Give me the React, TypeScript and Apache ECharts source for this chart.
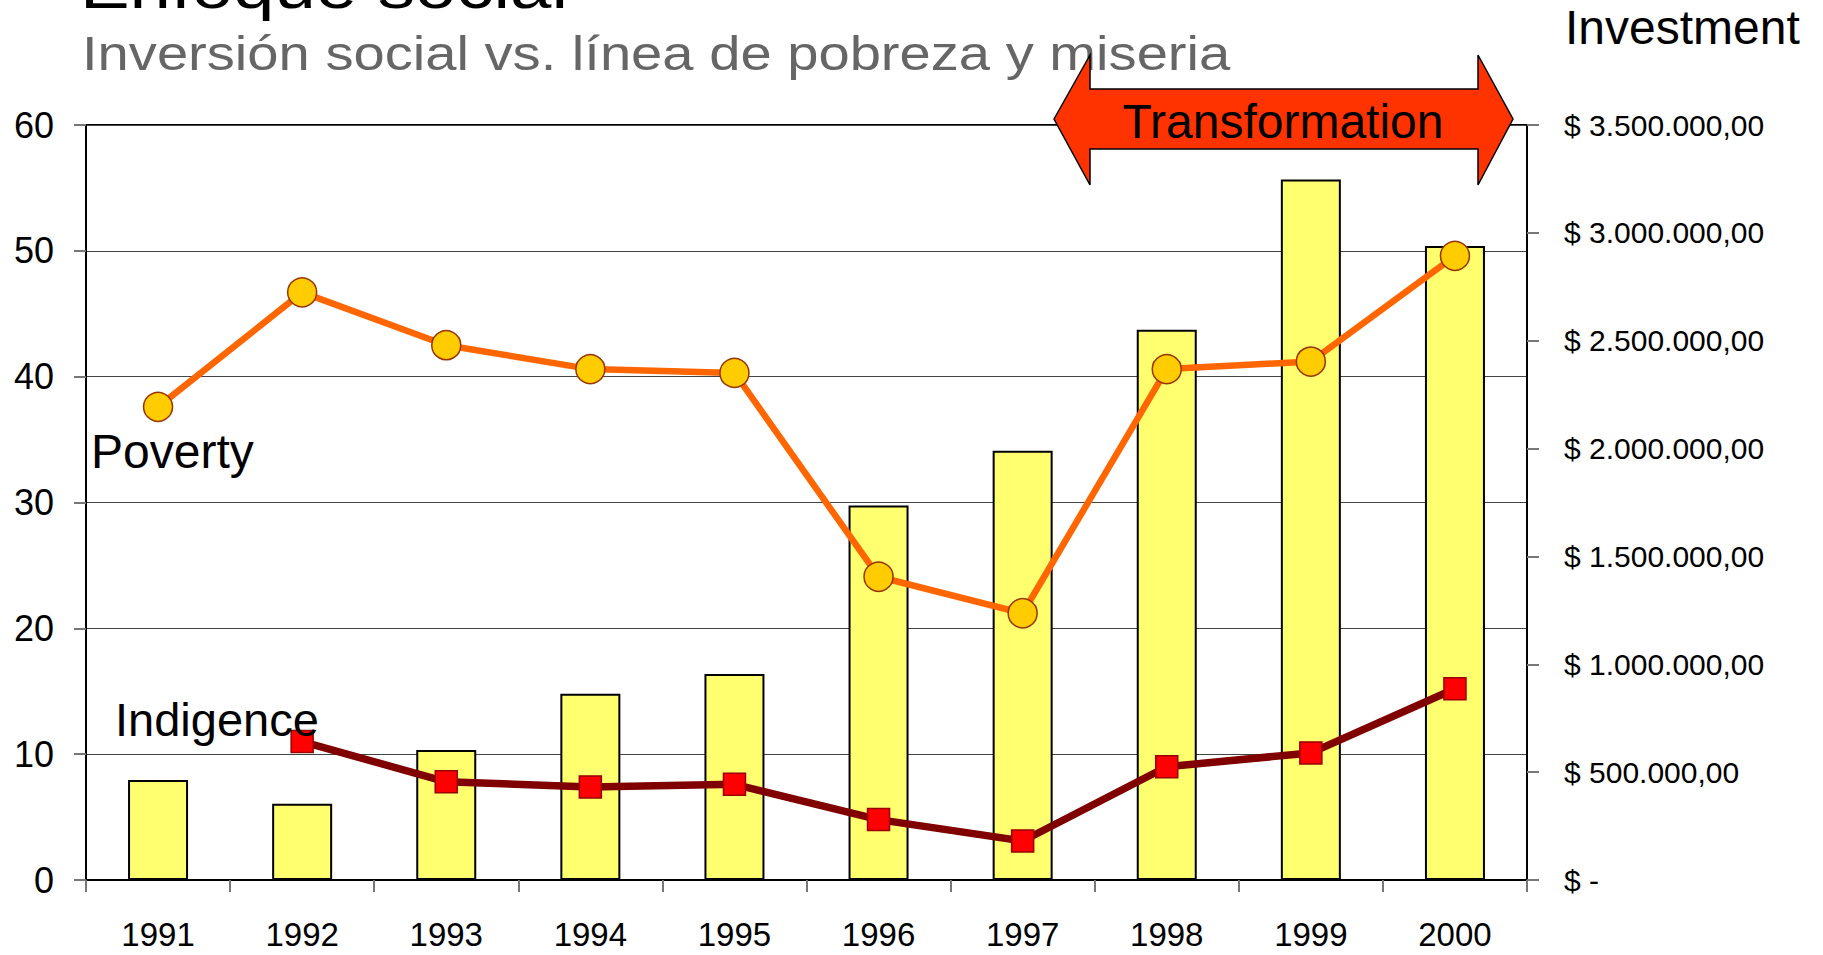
import React, { useEffect, useRef } from "react";
import * as echarts from "echarts";

const years = ["1991", "1992", "1993", "1994", "1995", "1996", "1997", "1998", "1999", "2000"];
const investment = [464000, 353000, 603000, 863000, 955000, 1736000, 1990000, 2551000, 3247000, 2939000];
const poverty = [37.6, 46.7, 42.5, 40.6, 40.3, 24.1, 21.2, 40.6, 41.2, 49.6];
const indigence: (number | null)[] = [null, 11.0, 7.8, 7.4, 7.6, 4.8, 3.1, 9.0, 10.1, 15.2];

const leftTicks = { min: 0, max: 60, interval: 10 };
const rightTicks = { min: 0, max: 3500000, interval: 500000 };

const titleText = "Enfoque social";
const subtitleText = "Inversión social vs. línea de pobreza y miseria";
const investmentLabel = "Investment";
const povertyLabel = "Poverty";
const indigenceLabel = "Indigence";
const arrowLabel = "Transformation";

const FONT = "'Liberation Sans', Arial, Helvetica, sans-serif";

function money(v: number): string {
  if (v === 0) return "$ -";
  const s = Math.round(v).toString().replace(/\B(?=(\d{3})+(?!\d))/g, ".");
  return "$ " + s + ",00";
}

export default function App() {
  const ref = useRef<HTMLDivElement>(null);
  useEffect(() => {
    if (!ref.current) return;
    const chart = echarts.init(ref.current, null, { renderer: "svg" });
    const option: any = {
      animation: false,
      backgroundColor: "#ffffff",
      textStyle: { fontFamily: FONT },
      grid: {
        left: 86,
        right: 296,
        top: 125,
        bottom: 75,
        show: true,
        borderColor: "#000",
        borderWidth: 2,
        backgroundColor: "transparent",
        containLabel: false,
      },
      xAxis: {
        type: "category",
        data: years,
        boundaryGap: true,
        axisLine: { show: true, lineStyle: { color: "#000", width: 2 } },
        axisTick: { show: true, length: 12, alignWithLabel: false, interval: 0, lineStyle: { color: "#777", width: 2 } },
        axisLabel: { fontSize: 33, color: "#000", margin: 38, fontFamily: FONT },
        splitLine: { show: false },
      },
      yAxis: [
        {
          type: "value",
          position: "left",
          min: leftTicks.min,
          max: leftTicks.max,
          interval: leftTicks.interval,
          axisLine: { show: true, lineStyle: { color: "#000", width: 2 } },
          axisTick: { show: true, length: 12, lineStyle: { color: "#777", width: 2 } },
          axisLabel: { fontSize: 36, color: "#000", margin: 32, fontFamily: FONT },
          splitLine: { show: true, lineStyle: { color: "#444", width: 1 } },
        },
        {
          type: "value",
          position: "right",
          min: rightTicks.min,
          max: rightTicks.max,
          interval: rightTicks.interval,
          axisLine: { show: true, lineStyle: { color: "#000", width: 2 } },
          axisTick: { show: true, length: 12, lineStyle: { color: "#777", width: 2 } },
          axisLabel: { fontSize: 30, color: "#000", margin: 37, fontFamily: FONT, formatter: (v: number) => money(v) },
          splitLine: { show: false },
        },
      ],
      series: [
        {
          name: "Investment",
          type: "bar",
          yAxisIndex: 1,
          data: investment,
          barWidth: 60,
          itemStyle: { color: "#FFFF70", borderColor: "#000", borderWidth: 2 },
          z: 2,
        },
        {
          name: "Poverty",
          type: "line",
          yAxisIndex: 0,
          data: poverty,
          symbol: "circle",
          symbolSize: 29,
          lineStyle: { color: "#FF6600", width: 6.5 },
          itemStyle: { color: "#FFCC00", borderColor: "#993300", borderWidth: 1.5 },
          z: 4,
        },
        {
          name: "Indigence",
          type: "line",
          yAxisIndex: 0,
          data: indigence.map((v) => (v === null ? "-" : v)),
          symbol: "rect",
          symbolSize: 22,
          lineStyle: { color: "#800000", width: 7.5 },
          itemStyle: { color: "#FF0000", borderColor: "#990000", borderWidth: 1.5 },
          z: 3,
        },
      ],
      graphic: [
        {
          type: "text",
          x: 80,
          y: -13,
          scaleX: 1.2,
          z: 10,
          style: { text: titleText, font: `62px ${FONT}`, fill: "#000", textVerticalAlign: "middle" },
        },
        {
          type: "text",
          x: 82,
          y: 53,
          scaleX: 1.17,
          z: 10,
          style: { text: subtitleText, font: `48px ${FONT}`, fill: "#666666", textVerticalAlign: "middle" },
        },
        {
          type: "text",
          x: 1565,
          y: 27,
          z: 10,
          style: { text: investmentLabel, font: `48px ${FONT}`, fill: "#000", textVerticalAlign: "middle" },
        },
        {
          type: "text",
          x: 91,
          y: 451,
          z: 10,
          style: { text: povertyLabel, font: `48px ${FONT}`, fill: "#000", textVerticalAlign: "middle" },
        },
        {
          type: "text",
          x: 115,
          y: 719,
          z: 10,
          style: { text: indigenceLabel, font: `47px ${FONT}`, fill: "#000", textVerticalAlign: "middle" },
        },
        {
          type: "polygon",
          z: 20,
          shape: {
            points: [
              [1054, 119],
              [1090, 55],
              [1090, 89],
              [1478, 89],
              [1478, 55],
              [1513, 119],
              [1478, 185],
              [1478, 149],
              [1090, 149],
              [1090, 185],
            ],
          },
          style: { fill: "#FF3300", stroke: "#000", lineWidth: 1.5 },
        },
        {
          type: "text",
          x: 1283,
          y: 121,
          z: 21,
          style: { text: arrowLabel, font: `48px ${FONT}`, fill: "#000", textAlign: "center", textVerticalAlign: "middle" },
        },
      ],
    };
    chart.setOption(option);
    return () => chart.dispose();
  }, []);
  return (
    <div
      ref={ref}
      style={{ position: "fixed", left: 0, top: 0, width: 1823, height: 955, background: "#fff" }}
    />
  );
}
